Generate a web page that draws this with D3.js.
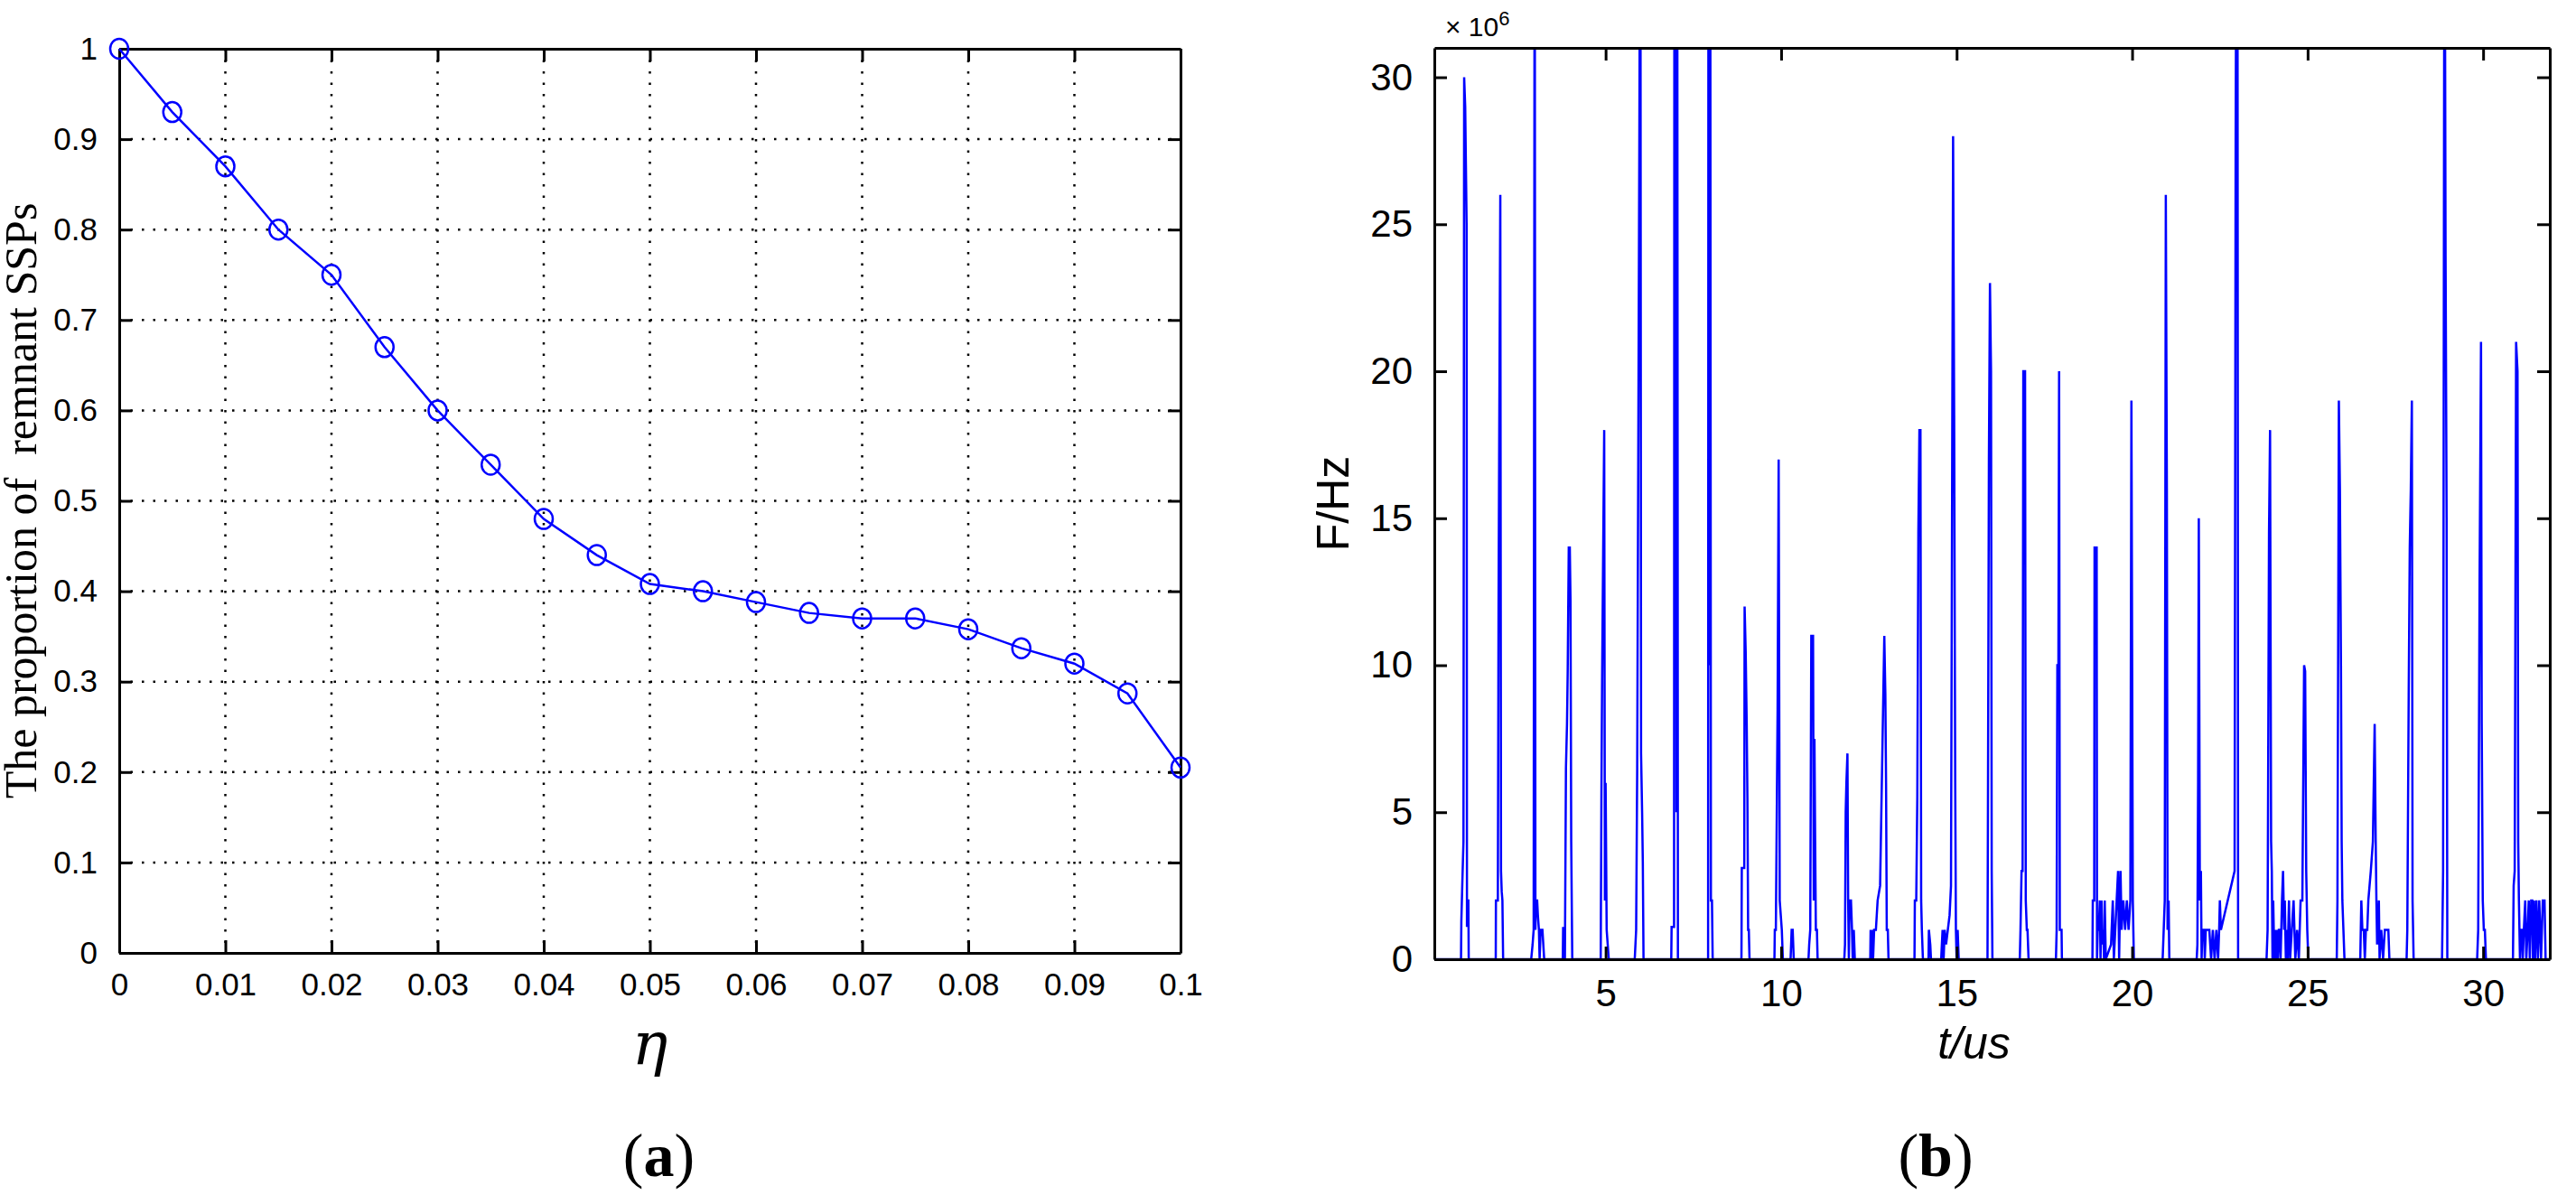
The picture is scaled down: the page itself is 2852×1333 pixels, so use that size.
<!DOCTYPE html>
<html><head><meta charset="utf-8">
<script src="https://cdn.jsdelivr.net/npm/d3@7"></script>
<style>body{margin:0;background:#fff}svg{display:block}</style>
</head><body>
<svg id="c" width="2852" height="1333"></svg>
<script>
// ---------- DATA ----------
const etaValues = [0,0.005,0.01,0.015,0.02,0.025,0.03,0.035,0.04,0.045,0.05,0.055,0.06,0.065,0.07,0.075,0.08,0.085,0.09,0.095,0.1];
const proportion = [1,0.93,0.87,0.80,0.75,0.67,0.60,0.54,0.48,0.44,0.408,0.40,0.388,0.376,0.37,0.37,0.358,0.337,0.32,0.287,0.205];
const xTicksA = [0,0.01,0.02,0.03,0.04,0.05,0.06,0.07,0.08,0.09,0.1];
const yTicksA = [0,0.1,0.2,0.3,0.4,0.5,0.6,0.7,0.8,0.9,1];
const xTicksB = [5,10,15,20,25,30];
const yTicksB = [0,5,10,15,20,25,30];
// frequency signal: [t (us), F (x10^6 Hz)]
const freqSignal = [
[0.12,0],[0.88,0],[0.89,1.3],[0.92,2.7],[0.95,4],[0.97,30],[1.0,29],[1.02,27],[1.04,25],[1.05,1.1],[1.07,2],[1.09,2],[1.1,0],
[1.87,0],[1.875,2],[1.93,2],[1.95,12],[1.97,18],[2.0,26],[2.02,3],[2.04,2.3],[2.06,2],[2.08,0],
[2.88,0],[2.92,0.5],[2.95,1],[2.98,40],[3.0,1],[3.02,2],[3.05,2],[3.07,1.5],[3.1,1],[3.12,0],[3.15,1],[3.2,1],[3.25,0],
[3.78,0],[3.79,1.1],[3.82,0.5],[3.84,0],[3.87,6.5],[3.9,8],[3.92,9.8],[3.95,14],[3.98,14],[4.0,12.2],[4.02,4],[4.05,0],
[4.86,0],[4.88,5.4],[4.9,9.5],[4.93,13.8],[4.96,18],[4.98,2],[5.0,6],[5.03,1],[5.06,0.5],[5.09,0],
[5.83,0],[5.87,1],[5.9,6.5],[5.93,17],[5.96,27.5],[5.99,40],[6.01,7],[6.04,5],[6.06,3.3],[6.08,0],
[6.87,0],[6.88,1.1],[6.95,1.1],[6.96,40],[6.98,10],[7.0,40],[7.02,5],[7.04,40],[7.06,0],
[7.92,0],[7.93,40],[7.96,10],[7.98,40],[8.0,2],[8.03,2],[8.05,0],
[8.87,0],[8.88,3.1],[8.95,3.1],[8.96,12],[8.99,10.5],[9.02,8],[9.04,5.5],[9.06,1],[9.08,1],[9.1,0],
[9.81,0],[9.82,1],[9.85,1],[9.88,5.5],[9.9,8.5],[9.93,17],[9.96,2],[9.99,1.5],[10.02,1],[10.05,0],
[10.27,0],[10.3,1],[10.33,1],[10.36,0],
[10.78,0],[10.8,0.5],[10.83,1],[10.86,11],[10.88,11],[10.91,11],[10.93,2],[10.95,7.5],[10.97,4],[10.99,1],[11.02,1],[11.04,0],
[11.8,0],[11.82,0.5],[11.84,5],[11.86,6],[11.89,7],[11.91,2],[11.93,0],[11.95,2],[11.99,2],[12.02,1],[12.04,0],[12.07,1],[12.1,0],
[12.54,0],[12.55,1],[12.57,0],[12.6,1],[12.62,0],[12.65,1],[12.7,1],[12.75,2],[12.82,2.5],[12.94,11],[12.97,9],[12.99,6],[13.01,1],[13.04,1],[13.06,0],
[13.8,0],[13.81,2],[13.85,2],[13.88,5.5],[13.91,14.5],[13.94,18],[13.97,18],[13.99,2],[14.01,1],[14.04,0],[14.2,0],[14.21,1],[14.25,0.5],[14.27,0],
[14.56,0],[14.6,1],[14.63,0],[14.66,1],[14.7,0.5],[14.75,1],[14.8,1.5],[14.84,2.5],[14.9,28],[14.93,18.5],[14.96,6],[14.98,1],[15.0,0],[15.03,1],[15.06,0],
[15.88,0],[15.89,4],[15.92,17],[15.95,23],[15.98,20],[16.0,3],[16.02,0],
[16.8,0],[16.82,1],[16.85,3],[16.88,3],[16.9,20],[16.95,20],[16.97,2],[17.0,1],[17.02,1],[17.05,0],
[17.83,0],[17.85,1],[17.87,10],[17.9,10],[17.92,20],[17.94,1],[17.99,1],[18.0,0],
[18.87,0],[18.88,2],[18.92,2],[18.93,14],[18.99,14],[19.0,0],[19.02,1],[19.05,1],[19.08,2],[19.1,0],[19.13,2],[19.15,0.5],[19.18,1],[19.2,0],[19.22,2],[19.25,0],[19.4,0.5],[19.45,2],[19.48,0],[19.52,1],[19.6,3],[19.63,0],[19.67,3],[19.7,1],[19.75,2],[19.8,1],[19.85,2],[19.9,1],[19.95,2],[19.98,19],[20.02,2],[20.05,0],
[20.87,0],[20.9,1],[20.93,2],[20.96,26],[20.99,16],[21.01,1],[21.04,2],[21.06,0],
[21.84,0],[21.86,0.5],[21.88,6],[21.9,15],[21.93,2],[21.96,3],[21.98,0],[22.0,1],[22.05,1],[22.07,0],[22.1,1],[22.15,1],[22.2,1],[22.25,0],[22.3,1],[22.35,0],[22.4,1],[22.45,0],[22.48,1],[22.5,2],[22.53,1],
[22.92,3],[22.95,28],[22.98,40],[23.0,40],[23.02,0],
[23.83,0],[23.86,1],[23.9,14.5],[23.93,18],[23.96,4],[23.98,3],[24.0,0],[24.02,2],[24.05,0],[24.07,1],[24.1,0],[24.12,1],[24.15,0],[24.18,1],[24.2,1],[24.23,0],[24.27,2],[24.3,3],[24.33,1],[24.35,2],[24.38,0],[24.4,1],[24.43,0],[24.47,2],[24.5,0],[24.55,1],[24.6,2],[24.65,0],[24.7,1],[24.75,0],[24.8,2],[24.85,2],[24.9,10],[24.93,9.8],[24.96,3],[24.99,1],[25.02,0],
[25.83,0],[25.85,2],[25.89,19],[25.92,16],[25.95,10],[25.97,4],[25.99,2],[26.02,1],[26.05,0],
[26.5,0],[26.53,2],[26.56,1],[26.6,1],[26.63,0],[26.66,1],[26.7,1],[26.73,2],[26.8,3],[26.86,4],[26.91,8],[26.94,4],[26.96,2],[26.98,0.5],[27.0,1],[27.03,2],[27.05,0],[27.1,1],[27.15,0],[27.2,1],[27.3,1],[27.33,0],
[27.82,0],[27.84,1],[27.88,9],[27.91,14],[27.94,16],[27.97,19],[27.99,2],[28.02,0],
[28.83,0],[28.86,3],[28.9,40],[28.93,24],[28.96,15],[28.98,0],
[29.83,0],[29.86,1],[29.9,13],[29.94,21],[29.96,8],[29.99,2],[30.02,1],[30.05,1],[30.08,0],
[30.85,0],[30.87,2.5],[30.9,3],[30.94,21],[30.98,20],[31.0,4],[31.02,2],[31.05,0],[31.07,1],[31.1,1],[31.13,0],[31.16,1],[31.2,2],[31.23,0],[31.27,1],[31.3,2],[31.33,0],[31.37,2],[31.4,2],[31.42,0],[31.45,2],[31.48,0],[31.52,2],[31.56,0],[31.6,2],[31.65,0],[31.7,2],[31.75,2],[31.78,0],
[31.9,0]
];

// ---------- DRAW ----------
const svg = d3.select('#c');
const blue = '#0000ff';

// Panel (a)
const A = {l:132, r:1307, t:54, b:1055};
const xa = d3.scaleLinear().domain([0,0.1]).range([A.l,A.r]);
const ya = d3.scaleLinear().domain([0,1]).range([A.b,A.t]);
const ga = svg.append('g');
ga.append('g').selectAll('line').data(xTicksA.slice(1,-1)).join('line')
  .attr('x1',d=>xa(d)).attr('x2',d=>xa(d)).attr('y1',A.t).attr('y2',A.b)
  .attr('stroke','#000').attr('stroke-width',2.5).attr('stroke-dasharray','2.5,10');
ga.append('g').selectAll('line').data(yTicksA.slice(1,-1)).join('line')
  .attr('y1',d=>ya(d)).attr('y2',d=>ya(d)).attr('x1',A.l).attr('x2',A.r)
  .attr('stroke','#000').attr('stroke-width',2.5).attr('stroke-dasharray','2.5,10');
function axesBox(g, x, y, B, xt, yt, fmtX, fmtY, fs, font){
  const ax = g.append('g').attr('transform',`translate(0,${B.b})`).call(d3.axisBottom(x).tickValues(xt).tickSizeInner(-14).tickSizeOuter(0).tickPadding(22).tickFormat(fmtX));
  const ax2 = g.append('g').attr('transform',`translate(0,${B.t})`).call(d3.axisTop(x).tickValues(xt).tickSizeInner(-14).tickSizeOuter(0).tickFormat(''));
  const ay = g.append('g').attr('transform',`translate(${B.l},0)`).call(d3.axisLeft(y).tickValues(yt).tickSizeInner(-14).tickSizeOuter(0).tickPadding(24).tickFormat(fmtY));
  const ay2 = g.append('g').attr('transform',`translate(${B.r},0)`).call(d3.axisRight(y).tickValues(yt).tickSizeInner(-14).tickSizeOuter(0).tickFormat(''));
  [ax,ax2,ay,ay2].forEach(a=>{a.selectAll('path').attr('stroke','#000').attr('stroke-width',3);
    a.selectAll('line').attr('stroke','#000').attr('stroke-width',3);
    a.selectAll('text').attr('font-family',font).attr('font-size',fs).attr('fill','#000');});
}
axesBox(ga, xa, ya, A, xTicksA, yTicksA, d=>d3.format('')(+d.toFixed(2)), d=>d3.format('')(+d.toFixed(1)), 35, 'Liberation Sans, Arial, sans-serif');
ga.append('path').datum(etaValues.map((e,i)=>[e,proportion[i]]))
  .attr('d',d3.line().x(d=>xa(d[0])).y(d=>ya(d[1])))
  .attr('fill','none').attr('stroke',blue).attr('stroke-width',2.5);
ga.append('g').selectAll('ellipse').data(etaValues).join('ellipse')
  .attr('cx',d=>xa(d)).attr('cy',(d,i)=>ya(proportion[i])).attr('rx',10).attr('ry',11)
  .attr('fill','none').attr('stroke',blue).attr('stroke-width',2.5);
svg.append('text').attr('transform',`translate(40,${(A.t+A.b)/2}) rotate(-90)`)
  .attr('text-anchor','middle').attr('font-family','Liberation Serif, Times New Roman, serif')
  .attr('font-size',50).attr('xml:space','preserve').text('The proportion of  remnant SSPs');
svg.append('text').attr('x',(A.l+A.r)/2).attr('y',1178).attr('text-anchor','middle')
  .attr('font-family','DejaVu Serif, serif').attr('font-style','italic').attr('font-size',66).text('η');
svg.append('text').attr('x',(A.l+A.r)/2+10).attr('y',1302).attr('text-anchor','middle')
  .attr('font-family','Liberation Serif, serif').attr('font-size',68).html('(<tspan font-weight="bold">a</tspan>)');

// Panel (b)
const B = {l:1588, r:2823, t:53, b:1062};
const xb = d3.scaleLinear().domain([0.12,31.9]).range([B.l,B.r]);
const yb = d3.scaleLinear().domain([0,31]).range([B.b,B.t]);
const gb = svg.append('g');
svg.append('clipPath').attr('id','clipB').append('rect').attr('x',B.l).attr('y',B.t).attr('width',B.r-B.l).attr('height',B.b-B.t);
gb.append('path').datum(freqSignal).attr('clip-path','url(#clipB)')
  .attr('d',d3.line().x(d=>xb(d[0])).y(d=>yb(d[1])))
  .attr('fill','none').attr('stroke',blue).attr('stroke-width',2.5);
axesBox(gb, xb, yb, B, xTicksB, yTicksB, d=>d, d=>d, 42, 'Liberation Sans, Arial, sans-serif');
svg.append('text').attr('x',B.l+12).attr('y',40).attr('font-family','Liberation Sans, Arial, sans-serif')
  .attr('font-size',30).html('× 10<tspan dy="-12" font-size="22">6</tspan>');
svg.append('text').attr('transform',`translate(1493,${(B.t+B.b)/2}) rotate(-90)`)
  .attr('text-anchor','middle').attr('font-family','Liberation Sans, Arial, sans-serif').attr('font-size',50).text('F/Hz');
svg.append('text').attr('x',(B.l+B.r)/2-20).attr('y',1172).attr('text-anchor','middle')
  .attr('font-family','Liberation Sans, Arial, sans-serif').attr('font-style','italic').attr('font-size',50).text('t/us');
svg.append('text').attr('x',2143).attr('y',1302).attr('text-anchor','middle')
  .attr('font-family','Liberation Serif, serif').attr('font-size',68).html('(<tspan font-weight="bold">b</tspan>)');
</script>
</body></html>
